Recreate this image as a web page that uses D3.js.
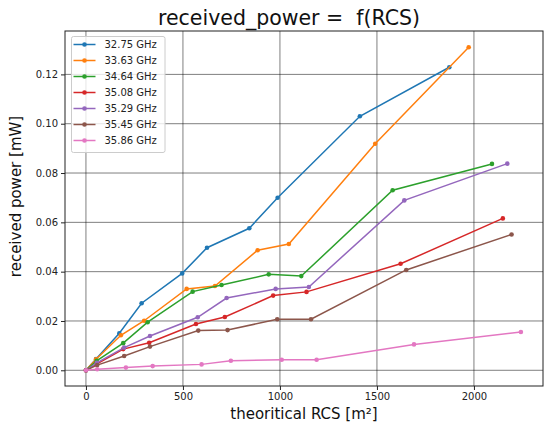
<!DOCTYPE html>
<html>
<head>
<meta charset="utf-8">
<script src="https://cdn.jsdelivr.net/npm/d3@7"></script>
<style>
  body { margin: 0; background: #fff; }
  svg { font-family: "DejaVu Sans", sans-serif; }
</style>
</head>
<body>
<script>
// series names
const freqs = ['32.75 GHz', '33.63 GHz', '34.64 GHz', '35.08 GHz', '35.29 GHz', '35.45 GHz', '35.86 GHz'];
const colors = ['#1f77b4', '#ff7f0e', '#2ca02c', '#d62728', '#9467bd', '#8c564b', '#e377c2'];

// theoretical RCS [m2] per series
const rcs3275 = [0, 52, 172, 287, 496, 624, 842, 988, 1412, 1873];
const rcs3363 = [0, 52, 180, 300, 519, 665, 885, 1046, 1491, 1973];
const rcs3464 = [0, 55, 192, 318, 550, 699, 942, 1110, 1581, 2093];
const rcs3508 = [0, 55, 192, 326, 567, 716, 965, 1137, 1622, 2149];
const rcs3529 = [0, 56, 197, 330, 576, 725, 978, 1149, 1641, 2172];
const rcs3545 = [0, 58, 197, 330, 579, 730, 986, 1160, 1651, 2194];
const rcs3586 = [0, 58, 206, 344, 596, 747, 1009, 1189, 1691, 2242];

// received power [mW] per series
const pw3275 = [0, 0.0046, 0.0150, 0.0272, 0.0393, 0.0497, 0.0576, 0.0700, 0.1030, 0.1229];
const pw3363 = [0, 0.0045, 0.0142, 0.0201, 0.0330, 0.0342, 0.0487, 0.0512, 0.0919, 0.1310];
const pw3464 = [0, 0.0038, 0.0110, 0.0195, 0.0319, 0.0346, 0.0389, 0.0382, 0.0730, 0.0837];
const pw3508 = [0, 0.0025, 0.0086, 0.0112, 0.0188, 0.0216, 0.0303, 0.0318, 0.0432, 0.0616];
const pw3529 = [0, 0.0030, 0.0092, 0.0139, 0.0215, 0.0293, 0.0330, 0.0338, 0.0689, 0.0838];
const pw3545 = [0, 0.0021, 0.0058, 0.0096, 0.0161, 0.0163, 0.0207, 0.0207, 0.0407, 0.0551];
const pw3586 = [0, 0.0004, 0.0011, 0.0017, 0.0024, 0.0039, 0.0043, 0.0043, 0.0105, 0.0155];

const xTicks = [0, 500, 1000, 1500, 2000];
const yTicks = [0, 0.02, 0.04, 0.06, 0.08, 0.10, 0.12];

const allX = [rcs3275, rcs3363, rcs3464, rcs3508, rcs3529, rcs3545, rcs3586];
const allY = [pw3275, pw3363, pw3464, pw3508, pw3529, pw3545, pw3586];
const series = freqs.map((name, i) => ({
  name,
  color: colors[i],
  points: allX[i].map((x, j) => [x, allY[i][j]])
}));

// Chart dimensions
const w = 549;
const h = 429;
const margin = { top: 31, right: 6, bottom: 43, left: 65 };

const svg = d3.select('body')
  .append('svg')
  .attr('width', w)
  .attr('height', h);

// Scaling
const xScale = d3.scaleLinear()
  .domain([-108, 2356])
  .range([margin.left, w - margin.right]);

const yScale = d3.scaleLinear()
  .domain([-0.00637, 0.1376])
  .range([h - margin.bottom, margin.top]);

// Grid
const grid = svg.append('g').attr('class', 'grid');
grid.selectAll('line.gx')
  .data(xTicks)
  .enter()
  .append('line')
  .attr('x1', d => xScale(d))
  .attr('x2', d => xScale(d))
  .attr('y1', margin.top)
  .attr('y2', h - margin.bottom)
  .attr('stroke', '#000')
  .attr('stroke-opacity', 0.5)
  .attr('stroke-width', 1);
grid.selectAll('line.gy')
  .data(yTicks)
  .enter()
  .append('line')
  .attr('x1', margin.left)
  .attr('x2', w - margin.right)
  .attr('y1', d => yScale(d))
  .attr('y2', d => yScale(d))
  .attr('stroke', '#000')
  .attr('stroke-opacity', 0.5)
  .attr('stroke-width', 1);

// X axis
const xAxis = d3.axisBottom(xScale)
  .tickValues(xTicks)
  .tickFormat(d3.format('d'))
  .tickSizeOuter(0)
  .tickSize(4)
  .tickPadding(3);

const gx = svg.append('g')
  .attr('transform', `translate(0, ${h - margin.bottom})`)
  .call(xAxis);

// Y axis
const yAxis = d3.axisLeft(yScale)
  .tickValues(yTicks)
  .tickFormat(d3.format('.2f'))
  .tickSizeOuter(0)
  .tickSize(4)
  .tickPadding(3);

const gy = svg.append('g')
  .attr('transform', `translate(${margin.left}, 0)`)
  .call(yAxis);

[gx, gy].forEach((g) => {
  g.select('.domain').remove();
  g.selectAll('text')
    .attr('font-family', '"DejaVu Sans", sans-serif')
    .attr('font-size', 10)
    .attr('fill', '#222');
  g.selectAll('line').attr('stroke', '#222');
});

// Lines
const line = d3.line()
  .x(d => xScale(d[0]))
  .y(d => yScale(d[1]));

const lines = svg.append('g');
series.forEach((s) => {
  lines.append('path')
    .datum(s.points)
    .attr('d', line)
    .attr('fill', 'none')
    .attr('stroke', s.color)
    .attr('stroke-width', 1.5);
  lines.selectAll(null)
    .data(s.points)
    .enter()
    .append('circle')
    .attr('cx', d => xScale(d[0]))
    .attr('cy', d => yScale(d[1]))
    .attr('r', 2.3)
    .attr('fill', s.color);
});

// Frame
svg.append('rect')
  .attr('x', margin.left)
  .attr('y', margin.top)
  .attr('width', w - margin.left - margin.right)
  .attr('height', h - margin.top - margin.bottom)
  .attr('fill', 'none')
  .attr('stroke', '#222')
  .attr('stroke-width', 1);

// Legend
const legend = svg.append('g').attr('transform', 'translate(71.5, 36.5)');
legend.append('rect')
  .attr('width', 93.5)
  .attr('height', 116)
  .attr('rx', 2)
  .attr('fill', '#fff')
  .attr('fill-opacity', 0.8)
  .attr('stroke', '#ccc');

series.forEach((s, i) => {
  const y = 8 + i * 16;
  legend.append('line')
    .attr('x1', 2)
    .attr('x2', 24)
    .attr('y1', y)
    .attr('y2', y)
    .attr('stroke', s.color)
    .attr('stroke-width', 1.5);
  legend.append('circle')
    .attr('cx', 13)
    .attr('cy', y)
    .attr('r', 2.3)
    .attr('fill', s.color);
  legend.append('text')
    .attr('x', 33)
    .attr('y', y + 3.5)
    .attr('font-size', 10)
    .attr('fill', '#222')
    .text(s.name);
});

// Title
svg.append('text')
  .attr('x', (margin.left + w - margin.right) / 2 - 15)
  .attr('y', 25)
  .attr('text-anchor', 'middle')
  .attr('font-size', 20.5)
  .attr('fill', '#111')
  .style('white-space', 'pre')
  .text('received_power =  f(RCS)');

// Axis labels
svg.append('text')
  .attr('x', (margin.left + w - margin.right) / 2)
  .attr('y', 419)
  .attr('text-anchor', 'middle')
  .attr('font-size', 15)
  .attr('fill', '#111')
  .text('theoritical RCS [m²]');

svg.append('text')
  .attr('text-anchor', 'middle')
  .attr('transform', `translate(21, ${(margin.top + h - margin.bottom) / 2 - 12}) rotate(-90)`)
  .attr('font-size', 15)
  .attr('fill', '#111')
  .text('received power [mW]');
</script>
</body>
</html>
